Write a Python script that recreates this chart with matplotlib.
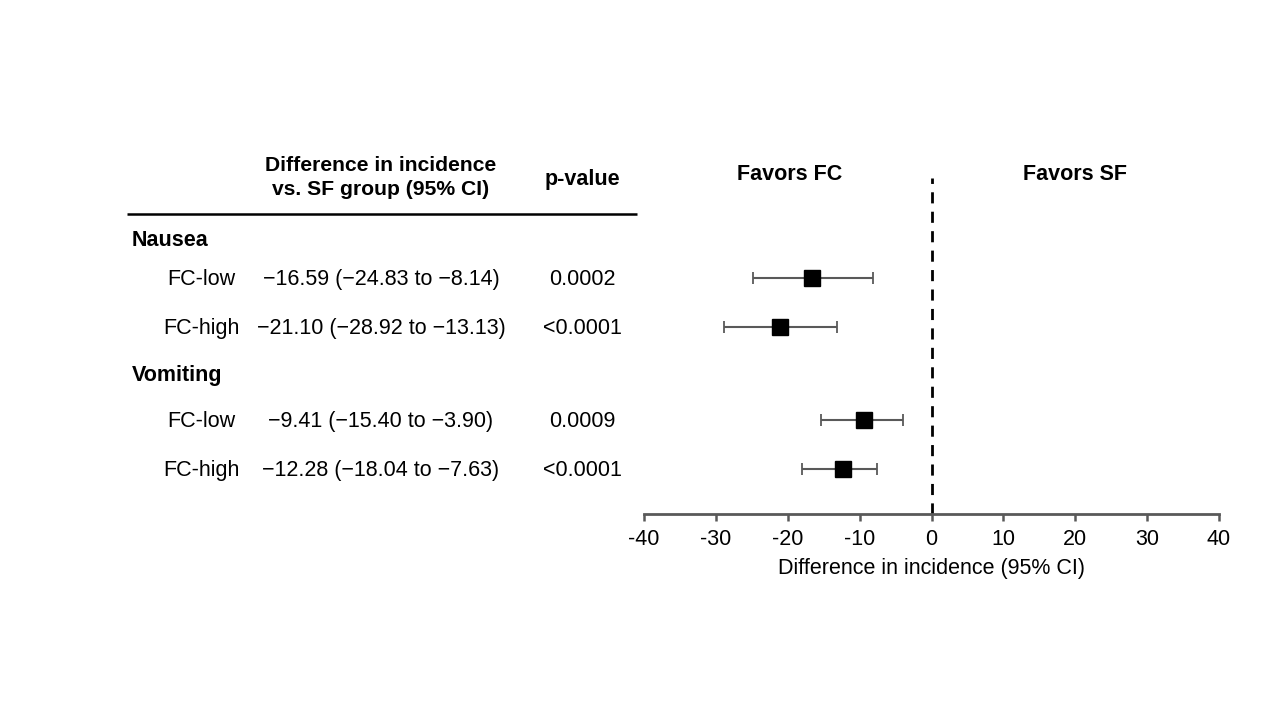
import matplotlib
matplotlib.use("Agg")
import matplotlib.pyplot as plt

plt.rcParams['font.family'] = ['Liberation Sans', 'DejaVu Sans']
plt.rcParams['axes.unicode_minus'] = False

# ---- data ----
groups = ["Nausea", "Vomiting"]
row_labels = ["FC-low", "FC-high", "FC-low", "FC-high"]
estimates = [-16.59, -21.10, -9.41, -12.28]
ci_low = [-24.83, -28.92, -15.40, -18.04]
ci_high = [-8.14, -13.13, -3.90, -7.63]
ci_text = ["\u221216.59 (\u221224.83 to \u22128.14)",
           "\u221221.10 (\u221228.92 to \u221213.13)",
           "\u22129.41 (\u221215.40 to \u22123.90)",
           "\u221212.28 (\u221218.04 to \u22127.63)"]
p_values = ["0.0002", "<0.0001", "0.0009", "<0.0001"]
x_ticks = [-40, -30, -20, -10, 0, 10, 20, 30, 40]

# ---- layout (pixel rows) ----
W, H = 1280, 720
row_y = [278, 327, 420, 469]
group_y = [240, 374]
axis_y = 514
top_y = 178
x_left_px, x_right_px = 644, 1219

fig = plt.figure(figsize=(12.8, 7.2), dpi=100)
fig.patch.set_facecolor('white')

ov = fig.add_axes([0, 0, 1, 1])
ov.set_xlim(0, W)
ov.set_ylim(H, 0)
ov.axis('off')

gray = '#595959'
fs = 15.5

ov.text(381, 177.5, "Difference in incidence\nvs. SF group (95% CI)", ha='center', va='center',
        fontsize=15.2, fontweight='bold', linespacing=1.32)
ov.text(582, 179.5, "p-value", ha='center', va='center', fontsize=15.5, fontweight='bold')
ov.plot([127, 637], [214, 214], color='black', lw=1.8, solid_capstyle='butt')

for g, gy in zip(groups, group_y):
    ov.text(132, gy + 1, g, ha='left', va='center', fontsize=fs, fontweight='bold')

for lbl, ct, pv, ry in zip(row_labels, ci_text, p_values, row_y):
    ov.text(201, ry + 1.5, lbl, ha='center', va='center', fontsize=fs)
    ov.text(381, ry + 1.5, ct, ha='center', va='center', fontsize=fs)
    ov.text(582, ry + 1.5, pv, ha='center', va='center', fontsize=fs)

ov.text(790, 174.5, "Favors FC", ha='center', va='center', fontsize=15.5, fontweight='bold')
ov.text(1075, 174.5, "Favors SF", ha='center', va='center', fontsize=15.5, fontweight='bold')

ax = fig.add_axes([x_left_px / W, 1 - axis_y / H, (x_right_px - x_left_px) / W, (axis_y - top_y) / H])
ax.set_facecolor('none')
ax.set_xlim(x_ticks[0], x_ticks[-1])
ax.set_ylim(axis_y, top_y)

xerr = [[e - l for e, l in zip(estimates, ci_low)], [h - e for e, h in zip(estimates, ci_high)]]
ax.errorbar(estimates, row_y, xerr=xerr, fmt='none', ecolor=gray, elinewidth=1.5,
            capsize=4.5, capthick=1.3, zorder=2)
ax.plot(estimates, row_y, 's', color='black', markersize=11.5, zorder=3)
ax.axvline(0, color='black', lw=2, ls=(0, (4, 3)), zorder=1)

for s in ['top', 'left', 'right']:
    ax.spines[s].set_visible(False)
ax.spines['bottom'].set_color(gray)
ax.spines['bottom'].set_linewidth(2)
ax.set_yticks([])
ax.set_xticks(x_ticks)
ax.set_xticklabels([str(t) for t in x_ticks])
ax.tick_params(axis='x', direction='out', length=5, width=1.8, color=gray, labelsize=fs, pad=6)
ax.set_xlabel("Difference in incidence (95% CI)", fontsize=fs, labelpad=5.5)

fig.savefig("out.png", dpi=100, facecolor='white')
